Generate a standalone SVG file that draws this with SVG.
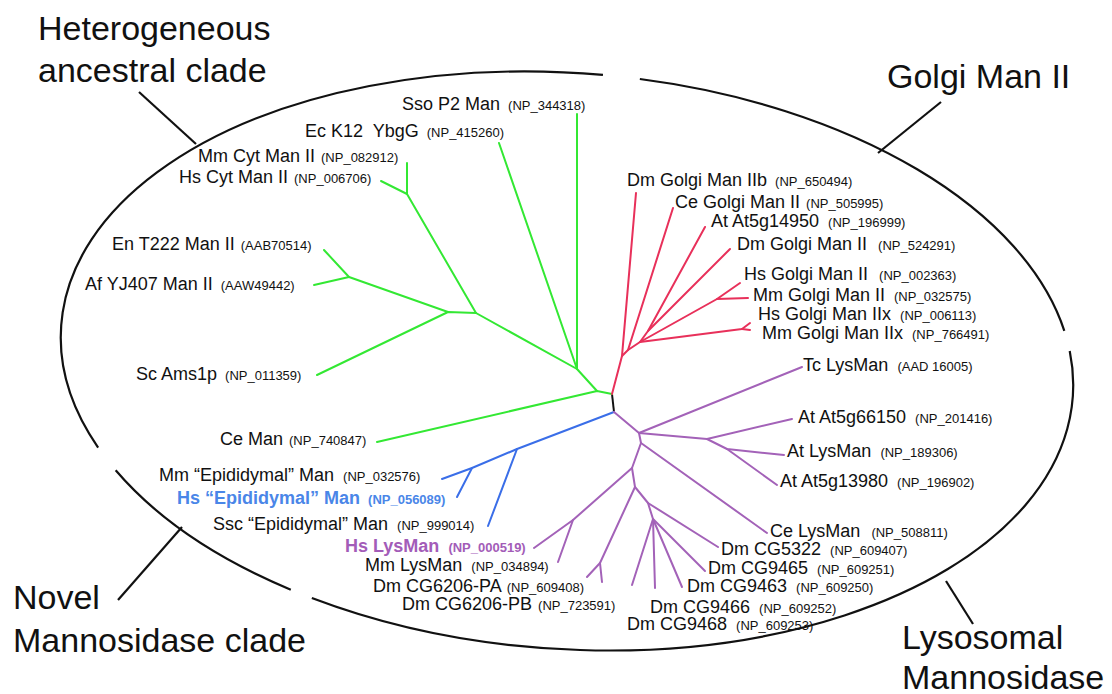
<svg xmlns="http://www.w3.org/2000/svg" width="1112" height="694" viewBox="0 0 1112 694">
<style>
text{font-family:"Liberation Sans",Arial,sans-serif;fill:#111}
.big{font-size:34px}
.n{font-size:18px}
.a{font-size:13px}
.b{font-weight:bold}
.ell{fill:none;stroke:#111;stroke-width:2.2}
.tick{stroke:#111;stroke-width:2.2;fill:none}
.gr{stroke:#33e833;stroke-width:2;fill:none;stroke-linecap:round;stroke-linejoin:round}
.rd{stroke:#e8305a;stroke-width:2;fill:none;stroke-linecap:round;stroke-linejoin:round}
.bl{stroke:#3a6ee8;stroke-width:2;fill:none;stroke-linecap:round;stroke-linejoin:round}
.pu{stroke:#a362b8;stroke-width:2;fill:none;stroke-linecap:round;stroke-linejoin:round}
.bk{stroke:#111;stroke-width:2;fill:none}
.tb{fill:#4a86e8}
.tp{fill:#a35cb8}
</style>
<rect width="1112" height="694" fill="#fff"/>
<g id="ellipse" transform="translate(567,361) rotate(4)">
<path class="ell" d="M53 -286.4 A507 288 0 0 1 494 -64.8"/>
<path class="ell" d="M500.8 -45.1 A507 288 0 0 1 -238 254.3"/>
<path class="ell" d="M-259.6 247.4 A507 288 0 0 1 -442.6 140.5"/>
<path class="ell" d="M-461.7 119 A507 288 0 0 1 15.9 -287.9"/>
</g>
<g id="connectors">
<g id="clade-ticks">
<line class="tick" x1="139" y1="92" x2="196" y2="144"/>
<line class="tick" x1="941" y1="102" x2="878" y2="153"/>
<line class="tick" x1="118" y1="600" x2="182" y2="527"/>
<line class="tick" x1="946" y1="581" x2="973" y2="624"/>
</g>
<path class="bk" d="M612 394 L614 412"/>
<g id="green-branches">
<path class="gr" d="M612 394 L597 391 L377 442"/>
<path class="gr" d="M597 391 L577 369 L577 114"/>
<path class="gr" d="M577 369 L499 143"/>
<path class="gr" d="M577 369 L476 313 L407 194 L407 163"/>
<path class="gr" d="M407 194 L381 181"/>
<path class="gr" d="M476 313 L448 312 L317 375"/>
<path class="gr" d="M448 312 L349 277 L324 250"/>
<path class="gr" d="M349 277 L314 285"/>
</g>
<g id="red-branches">
<path class="rd" d="M612 394 L622 356 L636 193"/>
<path class="rd" d="M622 356 L628 350 L673 208"/>
<path class="rd" d="M628 350 L640 342 L648 331 L705 227"/>
<path class="rd" d="M648 331 L730 249"/>
<path class="rd" d="M640 342 L717 299 L740 283"/>
<path class="rd" d="M717 299 L748 298"/>
<path class="rd" d="M640 342 L742 329 L750 323"/>
<path class="rd" d="M742 329 L750 330"/>
</g>
<g id="blue-branches">
<path class="bl" d="M614 412 L517 449 L488 526"/>
<path class="bl" d="M517 449 L472 468 L442 479"/>
<path class="bl" d="M472 468 L457 497"/>
</g>
<g id="purple-branches">
<path class="pu" d="M614 412 L639 433 L802 367"/>
<path class="pu" d="M639 433 L707 439 L792 419"/>
<path class="pu" d="M707 439 L727 449 L784 455"/>
<path class="pu" d="M727 449 L777 485"/>
<path class="pu" d="M639 433 L641 443 L767 533"/>
<path class="pu" d="M641 443 L632 468 L573 520 L534 548"/>
<path class="pu" d="M573 520 L558 562"/>
<path class="pu" d="M632 468 L635 487 L600 563 L587 577"/>
<path class="pu" d="M600 563 L602 582"/>
<path class="pu" d="M635 487 L648 503 L718 547"/>
<path class="pu" d="M648 503 L653 519 L632 585"/>
<path class="pu" d="M653 519 L655 588"/>
<path class="pu" d="M653 519 L682 587"/>
<path class="pu" d="M653 519 L705 571"/>
</g>
</g>
<g id="clade-heterogeneous"><text class="big" x="38" y="40">Heterogeneous</text><text class="big" x="38" y="82">ancestral clade</text></g>
<g id="clade-golgi"><text class="big" x="887" y="88">Golgi Man II</text></g>
<g id="clade-novel"><text class="big" x="13" y="609">Novel</text><text class="big" x="13" y="652">Mannosidase clade</text></g>
<g id="clade-lysosomal"><text class="big" x="902" y="649">Lysosomal</text><text class="big" x="902" y="689">Mannosidase</text></g>
<g id="leaf-sso"><text class="n" x="402" y="110">Sso P2 Man <tspan class="a" dx="3">(NP_344318)</tspan></text></g>
<g id="leaf-ec"><text class="n" x="305" y="137" xml:space="preserve">Ec K12  YbgG <tspan class="a" dx="3">(NP_415260)</tspan></text></g>
<g id="leaf-mmcyt"><text class="n" x="198" y="162">Mm Cyt Man II <tspan class="a" dx="1">(NP_082912)</tspan></text></g>
<g id="leaf-hscyt"><text class="n" x="179" y="183">Hs Cyt Man II <tspan class="a" dx="1">(NP_006706)</tspan></text></g>
<g id="leaf-en"><text class="n" x="112" y="250">En T222 Man II <tspan class="a" dx="1">(AAB70514)</tspan></text></g>
<g id="leaf-af"><text class="n" x="85" y="290">Af YJ407 Man II <tspan class="a" dx="3">(AAW49442)</tspan></text></g>
<g id="leaf-sc"><text class="n" x="136" y="380">Sc Ams1p <tspan class="a" dx="3">(NP_011359)</tspan></text></g>
<g id="leaf-ceman"><text class="n" x="220" y="445">Ce Man <tspan class="a" dx="1">(NP_740847)</tspan></text></g>
<g id="leaf-mmepi"><text class="n" x="159" y="481">Mm “Epididymal” Man <tspan class="a" dx="4">(NP_032576)</tspan></text></g>
<g id="leaf-hsepi"><text class="n b tb" x="177" y="504">Hs “Epididymal” Man <tspan class="a" dx="3">(NP_056089)</tspan></text></g>
<g id="leaf-sscepi"><text class="n" x="213" y="530">Ssc “Epididymal” Man <tspan class="a" dx="4">(NP_999014)</tspan></text></g>
<g id="leaf-hslys"><text class="n b tp" x="345" y="552">Hs LysMan <tspan class="a" dx="4">(NP_000519)</tspan></text></g>
<g id="leaf-mmlys"><text class="n" x="365" y="571">Mm LysMan <tspan class="a" dx="4">(NP_034894)</tspan></text></g>
<g id="leaf-cg6206pa"><text class="n" x="373" y="592">Dm CG6206-PA <tspan class="a" dx="1">(NP_609408)</tspan></text></g>
<g id="leaf-cg6206pb"><text class="n" x="402" y="610">Dm CG6206-PB <tspan class="a" dx="1">(NP_723591)</tspan></text></g>
<g id="leaf-dmgolgiiib"><text class="n" x="627" y="186">Dm Golgi Man IIb <tspan class="a" dx="3">(NP_650494)</tspan></text></g>
<g id="leaf-cegolgi"><text class="n" x="675" y="208">Ce Golgi Man II <tspan class="a" dx="1">(NP_505995)</tspan></text></g>
<g id="leaf-at14950"><text class="n" x="711" y="227">At At5g14950 <tspan class="a" dx="4">(NP_196999)</tspan></text></g>
<g id="leaf-dmgolgi"><text class="n" x="737" y="250">Dm Golgi Man II <tspan class="a" dx="6">(NP_524291)</tspan></text></g>
<g id="leaf-hsgolgi"><text class="n" x="744" y="280">Hs Golgi Man II <tspan class="a" dx="6">(NP_002363)</tspan></text></g>
<g id="leaf-mmgolgi"><text class="n" x="753" y="301">Mm Golgi Man II <tspan class="a" dx="4">(NP_032575)</tspan></text></g>
<g id="leaf-hsgolgiiix"><text class="n" x="758" y="320">Hs Golgi Man IIx <tspan class="a" dx="4">(NP_006113)</tspan></text></g>
<g id="leaf-mmgolgiiix"><text class="n" x="762" y="339">Mm Golgi Man IIx <tspan class="a" dx="4">(NP_766491)</tspan></text></g>
<g id="leaf-tc"><text class="n" x="803" y="371">Tc LysMan <tspan class="a" dx="4">(AAD 16005)</tspan></text></g>
<g id="leaf-at66150"><text class="n" x="798" y="423">At At5g66150 <tspan class="a" dx="4">(NP_201416)</tspan></text></g>
<g id="leaf-atlys"><text class="n" x="787" y="457">At LysMan <tspan class="a" dx="4">(NP_189306)</tspan></text></g>
<g id="leaf-at13980"><text class="n" x="780" y="487">At At5g13980 <tspan class="a" dx="4">(NP_196902)</tspan></text></g>
<g id="leaf-celys"><text class="n" x="770" y="537">Ce LysMan <tspan class="a" dx="6">(NP_508811)</tspan></text></g>
<g id="leaf-cg5322"><text class="n" x="721" y="555">Dm CG5322 <tspan class="a" dx="4">(NP_609407)</tspan></text></g>
<g id="leaf-cg9465"><text class="n" x="708" y="574">Dm CG9465 <tspan class="a" dx="4">(NP_609251)</tspan></text></g>
<g id="leaf-cg9463"><text class="n" x="687" y="592">Dm CG9463 <tspan class="a" dx="4">(NP_609250)</tspan></text></g>
<g id="leaf-cg9466"><text class="n" x="650" y="613">Dm CG9466 <tspan class="a" dx="4">(NP_609252)</tspan></text></g>
<g id="leaf-cg9468"><text class="n" x="627" y="630">Dm CG9468 <tspan class="a" dx="4">(NP_609253)</tspan></text></g>
</svg>
